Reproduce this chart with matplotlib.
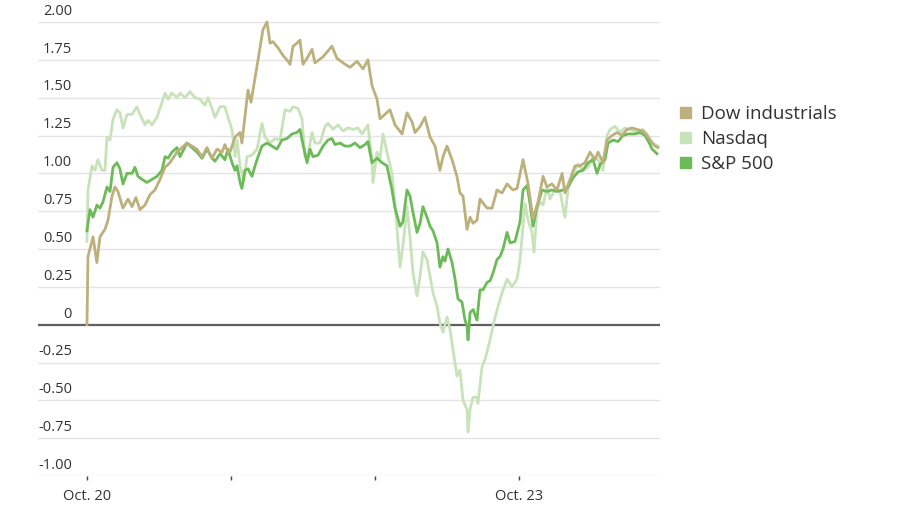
import numpy as np
import matplotlib
matplotlib.use("Agg")
import matplotlib.pyplot as plt

plt.rcParams['font.family'] = ['Open Sans', 'DejaVu Sans']

# time in trading days since the Oct. 20 open, value in % change
dow_t = [0, 0.007, 0.042, 0.069, 0.090, 0.125, 0.146, 0.174, 0.194, 0.215, 0.250, 0.285,
         0.313, 0.340, 0.368, 0.403, 0.438, 0.472, 0.507, 0.542, 0.576, 0.625, 0.660, 0.694,
         0.729, 0.764, 0.799, 0.833, 0.868, 0.903, 0.938, 0.958, 0.979, 0.993, 1.028, 1.063,
         1.076, 1.118, 1.139, 1.188, 1.222, 1.250, 1.271, 1.292, 1.326, 1.361, 1.396, 1.410,
         1.431, 1.458, 1.479, 1.500, 1.528, 1.563, 1.583, 1.639, 1.701, 1.736, 1.778, 1.826,
         1.875, 1.917, 1.951, 1.979, 2.014, 2.035, 2.069, 2.104, 2.139, 2.188, 2.222, 2.257,
         2.278, 2.313, 2.347, 2.382, 2.417, 2.451, 2.472, 2.500, 2.535, 2.569, 2.590, 2.611,
         2.639, 2.660, 2.681, 2.708, 2.729, 2.778, 2.813, 2.847, 2.882, 2.917, 2.958, 2.986,
         3.028, 3.063, 3.097, 3.132, 3.167, 3.194, 3.229, 3.264, 3.299, 3.319, 3.354, 3.389,
         3.424, 3.458, 3.493, 3.528, 3.549, 3.583, 3.611, 3.646, 3.681, 3.715, 3.750, 3.785,
         3.819, 3.861, 3.889, 3.910, 3.944, 3.965]
dow_v = [0.00, 0.45, 0.58, 0.41, 0.58, 0.63, 0.69, 0.85, 0.91, 0.88, 0.77, 0.83,
         0.78, 0.84, 0.76, 0.79, 0.86, 0.89, 0.96, 1.04, 1.07, 1.14, 1.17, 1.20,
         1.18, 1.16, 1.11, 1.17, 1.10, 1.16, 1.14, 1.19, 1.14, 1.14, 1.24, 1.27,
         1.20, 1.55, 1.47, 1.75, 1.95, 2.00, 1.86, 1.87, 1.83, 1.78, 1.74, 1.72,
         1.84, 1.86, 1.88, 1.72, 1.76, 1.82, 1.73, 1.77, 1.84, 1.76, 1.73, 1.70,
         1.74, 1.69, 1.75, 1.58, 1.49, 1.36, 1.39, 1.42, 1.32, 1.26, 1.40, 1.34,
         1.27, 1.31, 1.37, 1.24, 1.18, 1.02, 1.11, 1.18, 1.09, 0.98, 0.87, 0.85,
         0.63, 0.71, 0.67, 0.69, 0.83, 0.77, 0.77, 0.89, 0.87, 0.93, 0.89, 0.90,
         1.09, 0.93, 0.70, 0.81, 0.98, 0.91, 0.93, 0.89, 1.00, 0.87, 0.96, 1.05,
         1.05, 1.07, 1.14, 1.09, 1.14, 1.07, 1.22, 1.25, 1.27, 1.25, 1.29, 1.30,
         1.29, 1.28, 1.25, 1.22, 1.18, 1.17]

nasdaq_t = [0, 0.007, 0.035, 0.056, 0.076, 0.104, 0.125, 0.139, 0.160, 0.181, 0.208, 0.229,
            0.250, 0.278, 0.313, 0.347, 0.368, 0.403, 0.424, 0.451, 0.486, 0.521, 0.542,
            0.563, 0.590, 0.625, 0.646, 0.681, 0.715, 0.750, 0.785, 0.819, 0.840, 0.868,
            0.889, 0.924, 0.958, 0.979, 1.007, 1.028, 1.042, 1.063, 1.090, 1.111, 1.146,
            1.181, 1.215, 1.236, 1.271, 1.306, 1.340, 1.375, 1.410, 1.431, 1.465, 1.493,
            1.514, 1.535, 1.563, 1.583, 1.618, 1.653, 1.674, 1.708, 1.743, 1.778, 1.813,
            1.847, 1.882, 1.910, 1.931, 1.951, 1.979, 1.986, 2.014, 2.035, 2.056, 2.083,
            2.118, 2.139, 2.160, 2.174, 2.194, 2.222, 2.243, 2.264, 2.292, 2.313, 2.333,
            2.361, 2.382, 2.403, 2.431, 2.451, 2.472, 2.500, 2.521, 2.542, 2.569, 2.590,
            2.611, 2.639, 2.646, 2.660, 2.681, 2.708, 2.715, 2.743, 2.764, 2.799, 2.819,
            2.854, 2.882, 2.917, 2.951, 2.986, 3.007, 3.042, 3.063, 3.090, 3.104, 3.125,
            3.146, 3.167, 3.194, 3.215, 3.250, 3.285, 3.319, 3.340, 3.375, 3.410, 3.444,
            3.479, 3.514, 3.549, 3.583, 3.611, 3.632, 3.667, 3.701, 3.736, 3.771, 3.819,
            3.861, 3.896, 3.924, 3.965]
nasdaq_v = [0.55, 0.89, 1.05, 1.02, 1.09, 1.02, 1.02, 1.24, 1.22, 1.36, 1.42, 1.40,
            1.30, 1.39, 1.39, 1.44, 1.39, 1.32, 1.35, 1.32, 1.37, 1.47, 1.53,
            1.49, 1.53, 1.50, 1.53, 1.50, 1.54, 1.50, 1.49, 1.45, 1.50, 1.43,
            1.37, 1.44, 1.44, 1.37, 1.29, 1.11, 1.22, 1.05, 0.95, 1.11, 1.12,
            1.16, 1.33, 1.24, 1.20, 1.23, 1.22, 1.42, 1.41, 1.44, 1.43, 1.36,
            1.11, 1.13, 1.27, 1.20, 1.20, 1.31, 1.33, 1.29, 1.32, 1.28, 1.30,
            1.29, 1.30, 1.26, 1.29, 1.32, 1.09, 0.94, 1.14, 1.10, 1.26, 1.14,
            1.00, 0.80, 0.55, 0.38, 0.52, 0.78, 0.58, 0.34, 0.19, 0.32, 0.48,
            0.43, 0.32, 0.21, 0.12, 0.01, -0.05, 0.05, -0.03, -0.17, -0.34, -0.30,
            -0.50, -0.56, -0.71, -0.56, -0.48, -0.48, -0.52, -0.28, -0.23, -0.10, -0.01,
            0.12, 0.21, 0.30, 0.25, 0.30, 0.43, 0.80, 0.69, 0.61, 0.48, 0.76,
            0.81, 0.79, 0.91, 0.83, 0.89, 0.88, 0.71, 0.89, 1.00, 1.06, 1.02,
            1.04, 1.11, 1.09, 1.02, 1.25, 1.29, 1.31, 1.27, 1.30, 1.29, 1.27,
            1.29, 1.25, 1.20, 1.18]

sp_t = [0, 0.021, 0.042, 0.069, 0.090, 0.111, 0.139, 0.160, 0.181, 0.208, 0.229, 0.250,
        0.278, 0.313, 0.333, 0.354, 0.382, 0.417, 0.451, 0.486, 0.521, 0.542, 0.563, 0.590,
        0.625, 0.646, 0.667, 0.694, 0.729, 0.764, 0.799, 0.833, 0.868, 0.889, 0.924, 0.958,
        0.979, 1.007, 1.028, 1.042, 1.063, 1.076, 1.097, 1.118, 1.146, 1.167, 1.188, 1.215,
        1.250, 1.285, 1.319, 1.354, 1.389, 1.424, 1.458, 1.479, 1.500, 1.528, 1.549, 1.569,
        1.604, 1.639, 1.674, 1.701, 1.722, 1.757, 1.792, 1.826, 1.861, 1.896, 1.931, 1.951,
        1.979, 2.014, 2.049, 2.083, 2.118, 2.139, 2.174, 2.194, 2.222, 2.243, 2.264, 2.292,
        2.313, 2.333, 2.361, 2.382, 2.403, 2.431, 2.451, 2.472, 2.486, 2.507, 2.535, 2.556,
        2.576, 2.604, 2.625, 2.639, 2.646, 2.660, 2.681, 2.708, 2.729, 2.750, 2.778, 2.799,
        2.819, 2.847, 2.868, 2.889, 2.917, 2.938, 2.972, 3.007, 3.028, 3.056, 3.076, 3.097,
        3.125, 3.160, 3.194, 3.229, 3.264, 3.306, 3.340, 3.375, 3.410, 3.444, 3.479, 3.514,
        3.542, 3.563, 3.597, 3.618, 3.653, 3.688, 3.722, 3.757, 3.806, 3.840, 3.875, 3.910,
        3.924, 3.958]
sp_v = [0.62, 0.76, 0.71, 0.79, 0.77, 0.81, 0.91, 0.88, 1.04, 1.07, 1.03, 0.93,
        1.00, 1.00, 1.04, 0.98, 0.96, 0.94, 0.96, 0.98, 1.02, 1.11, 1.10, 1.14,
        1.17, 1.11, 1.15, 1.20, 1.17, 1.14, 1.10, 1.16, 1.10, 1.08, 1.13, 1.09,
        1.16, 1.07, 1.02, 1.05, 0.94, 0.90, 1.02, 1.03, 0.98, 1.05, 1.11, 1.18,
        1.20, 1.18, 1.16, 1.22, 1.23, 1.26, 1.27, 1.29, 1.19, 1.07, 1.16, 1.11,
        1.12, 1.18, 1.22, 1.23, 1.19, 1.20, 1.18, 1.18, 1.20, 1.17, 1.19, 1.21,
        1.07, 1.10, 1.07, 1.05, 0.89, 0.77, 0.65, 0.68, 0.89, 0.85, 0.74, 0.61,
        0.67, 0.78, 0.71, 0.65, 0.62, 0.54, 0.38, 0.45, 0.42, 0.50, 0.41, 0.30,
        0.17, 0.15, 0.03, -0.01, -0.10, 0.08, 0.10, 0.03, 0.23, 0.23, 0.28, 0.29,
        0.34, 0.43, 0.45, 0.50, 0.61, 0.54, 0.55, 0.68, 0.89, 0.92, 0.80, 0.65,
        0.78, 0.89, 0.88, 0.89, 0.88, 0.89, 0.91, 0.97, 1.01, 1.02, 1.07, 1.09,
        1.00, 1.06, 1.09, 1.20, 1.22, 1.21, 1.25, 1.26, 1.26, 1.27, 1.25, 1.19,
        1.16, 1.13]

series = ['Dow industrials', 'Nasdaq', 'S&P 500']
colors = ['#bcb07c', '#c8e2b9', '#6dba58']

yticks = [-1.0, -0.75, -0.5, -0.25, 0, 0.25, 0.5, 0.75, 1.0, 1.25, 1.5, 1.75, 2.0]
ylabels = ['-1.00', '-0.75', '-0.50', '-0.25', '0', '0.25', '0.50', '0.75',
           '1.00', '1.25', '1.50', '1.75', '2.00']
xticks = [0, 1, 2, 3]
xlabels = ['Oct. 20', '', '', 'Oct. 23']

fig = plt.figure(figsize=(9, 5.1), dpi=100)
ax = fig.add_axes([38 / 900, 1 - 477 / 510, 622 / 900, 454 / 510])

ax.set_xlim(-0.340, 3.979)
ax.set_ylim(-1.0, 2.0)

for y in yticks:
    if y == 0:
        ax.axhline(y, color='#5f5f5f', lw=1.6, zorder=1)
    else:
        ax.axhline(y, color='#e4e4e4', lw=1.0, zorder=0)

ax.plot(nasdaq_t, nasdaq_v, color=colors[1], lw=2.0, zorder=3, clip_on=False)
ax.plot(sp_t, sp_v, color=colors[2], lw=2.0, zorder=4, clip_on=False)
ax.plot(dow_t, dow_v, color=colors[0], lw=2.0, zorder=5, clip_on=False)

for y, lab in zip(yticks, ylabels):
    ax.annotate(lab, xy=(34 / 622, y), xycoords=('axes fraction', 'data'),
                xytext=(0, 3), textcoords='offset points',
                ha='right', va='bottom', fontsize=10.5, color='#333333')

ax.set_yticks([])
ax.set_xticks(xticks)
ax.set_xticklabels(xlabels, fontsize=10.5, color='#333333')
ax.tick_params(axis='x', length=3, width=1, color='#444444', pad=6)
for s in ax.spines.values():
    s.set_visible(False)

# legend as squares + text
for i, (name, c) in enumerate(zip(series, colors)):
    yf = 1 - (114 + 25 * i) / 510
    fig.patches.append(plt.Rectangle((680 / 900, yf - 5 / 510), 11 / 900, 11 / 510,
                                     transform=fig.transFigure, color=c))
    fig.text(701 / 900, yf, name, fontsize=13.5, color='#333333', va='center', ha='left')

fig.savefig('out.png', dpi=100)
